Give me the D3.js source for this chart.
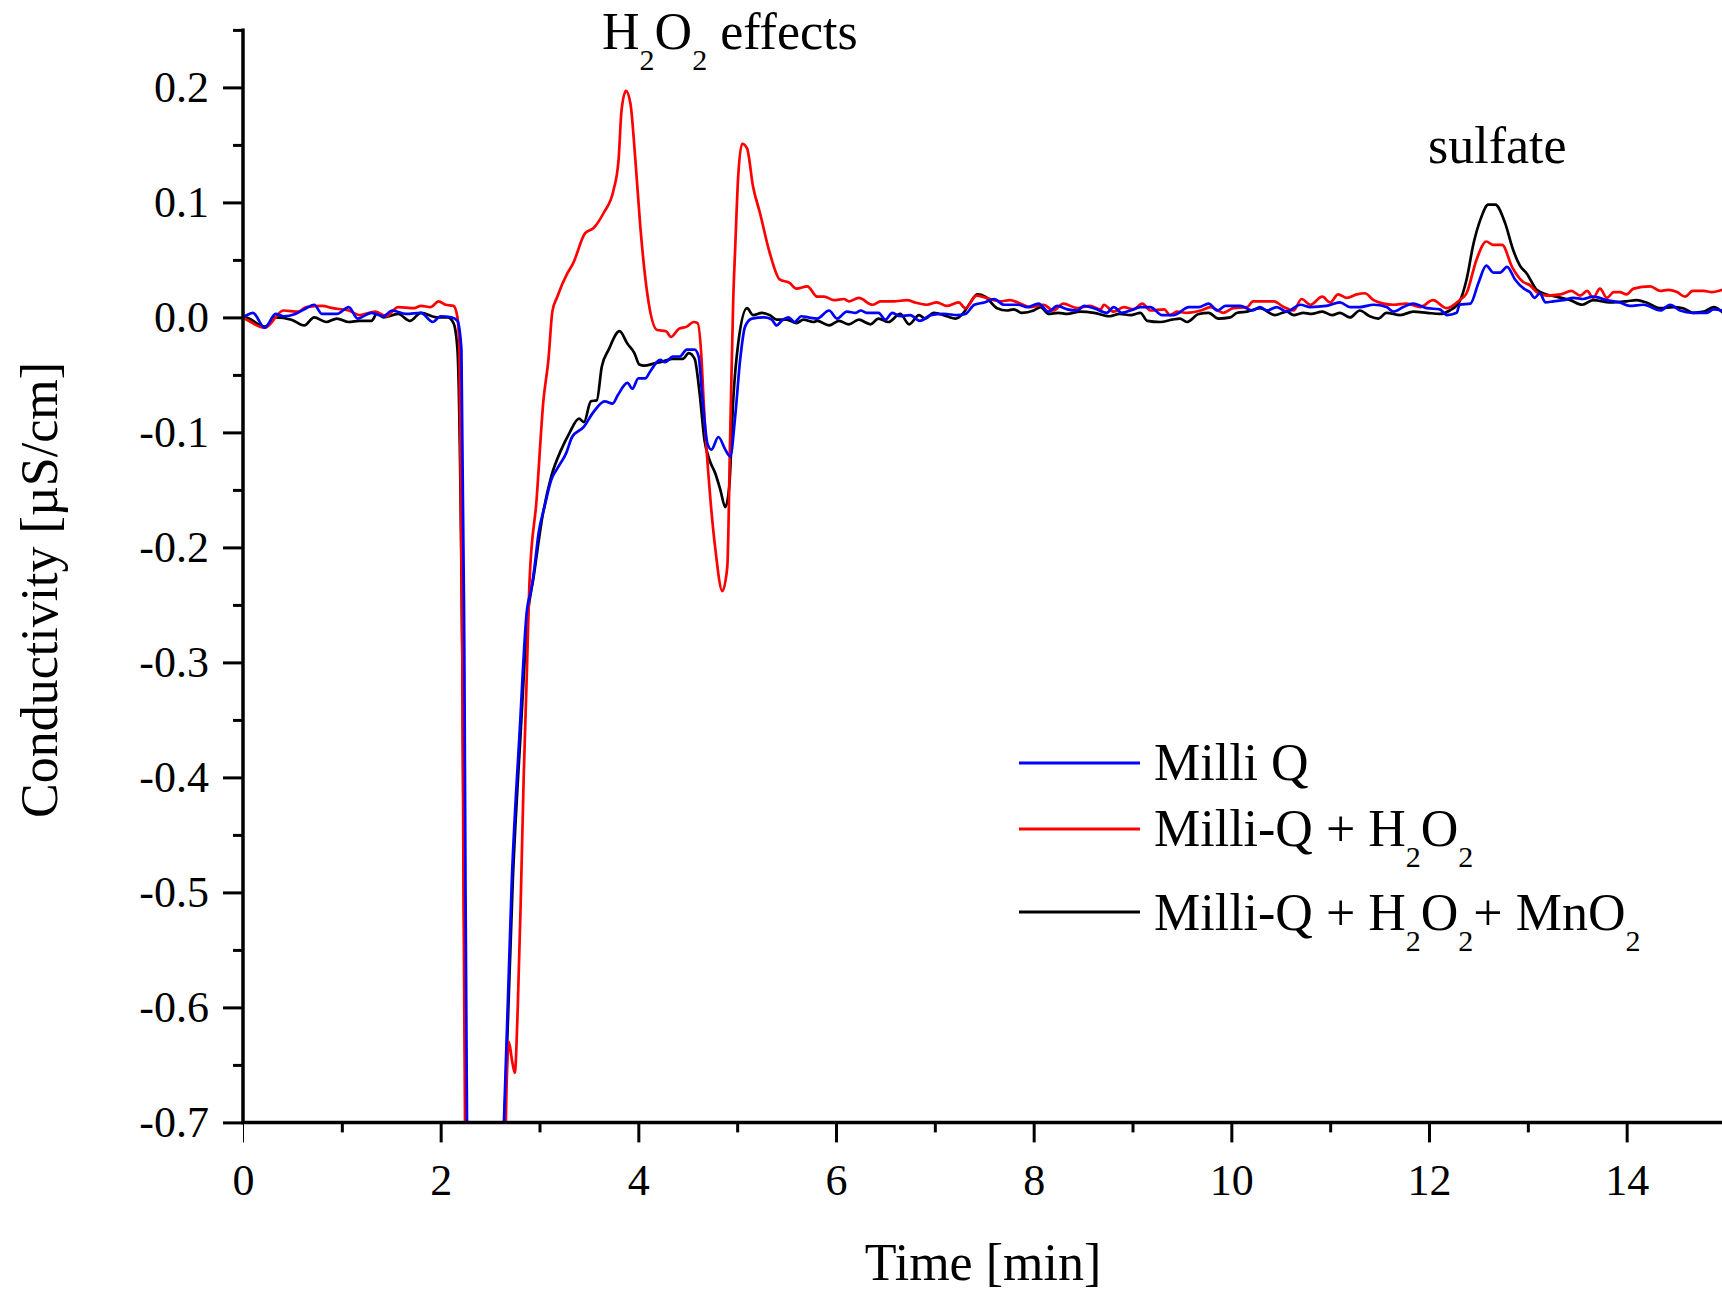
<!DOCTYPE html>
<html>
<head>
<meta charset="utf-8">
<script src="https://cdnjs.cloudflare.com/ajax/libs/d3/7.8.5/d3.min.js"></script>
<style>
  html, body { margin: 0; padding: 0; background: #fff; }
  svg { display: block; }
  text { font-family: "Liberation Serif", "Times New Roman", serif; fill: #000; }
</style>
</head>
<body>
<svg id="chart" width="1722" height="1292"></svg>
<script>
// ---------------- data (time [min], conductivity [µS/cm]) ----------------
const seriesNames = ["Milli Q", "Milli-Q + H2O2", "Milli-Q + H2O2+ MnO2"];
const seriesColors = ["#0000ff", "#ff0000", "#000000"];

const milliQ = [
  [0.00,0.000],[0.02,0.001],[0.10,0.004],[0.22,-0.009],[0.33,0.003],[0.41,0.001],[0.53,0.003],[0.64,0.008],
  [0.72,0.011],[0.80,0.003],[0.95,0.003],[1.07,0.009],[1.16,-0.001],[1.30,0.004],[1.42,0.001],[1.51,0.006],
  [1.65,0.003],[1.80,0.004],[1.92,-0.004],[2.00,0.001],[2.11,0.000],[2.17,-0.003],[2.21,-0.028],[2.24,-0.30],
  [2.27,-0.75],[2.45,-0.90],[2.63,-0.73],[2.64,-0.70],[2.72,-0.489],[2.80,-0.359],[2.87,-0.257],[2.92,-0.235],
  [2.95,-0.217],[2.99,-0.188],[3.05,-0.165],[3.12,-0.141],[3.19,-0.130],[3.27,-0.118],[3.33,-0.104],[3.45,-0.095],
  [3.54,-0.083],[3.66,-0.073],[3.74,-0.075],[3.79,-0.068],[3.89,-0.057],[3.94,-0.062],[4.00,-0.053],[4.07,-0.053],
  [4.12,-0.047],[4.22,-0.037],[4.27,-0.039],[4.35,-0.034],[4.42,-0.034],[4.49,-0.028],[4.57,-0.028],[4.61,-0.034],
  [4.65,-0.072],[4.70,-0.110],[4.74,-0.115],[4.81,-0.104],[4.88,-0.115],[4.93,-0.121],[4.98,-0.086],[5.03,-0.037],
  [5.08,-0.008],[5.15,-0.001],[5.28,0.000],[5.35,-0.002],[5.40,-0.007],[5.45,-0.003],[5.52,0.000],[5.58,-0.004],
  [5.65,0.001],[5.72,0.000],[5.81,-0.001],[5.93,0.006],[6.01,-0.001],[6.11,0.005],[6.20,0.004],[6.25,0.006],
  [6.31,0.004],[6.43,0.004],[6.50,-0.002],[6.57,0.004],[6.65,0.001],[6.75,0.002],[6.85,-0.003],[6.96,0.002],
  [7.09,0.003],[7.23,0.002],[7.31,0.003],[7.40,0.011],[7.50,0.013],[7.60,0.016],[7.70,0.011],[7.84,0.011],
  [7.94,0.009],[8.05,0.012],[8.15,0.005],[8.24,0.010],[8.34,0.007],[8.44,0.006],[8.51,0.010],[8.61,0.008],
  [8.74,0.004],[8.81,0.009],[8.89,0.004],[8.98,0.006],[9.08,0.009],[9.18,0.009],[9.30,0.002],[9.42,0.002],
  [9.57,0.009],[9.67,0.009],[9.77,0.012],[9.86,0.006],[9.94,0.010],[10.09,0.010],[10.21,0.006],[10.29,0.009],
  [10.36,0.006],[10.46,0.009],[10.56,0.005],[10.70,0.011],[10.80,0.009],[10.96,0.010],[11.10,0.013],[11.20,0.009],
  [11.30,0.009],[11.44,0.011],[11.57,0.009],[11.64,0.005],[11.74,0.009],[11.84,0.012],[11.98,0.008],[12.11,0.007],
  [12.18,0.002],[12.28,0.004],[12.31,0.011],[12.42,0.012],[12.50,0.030],[12.58,0.045],[12.65,0.039],[12.72,0.039],
  [12.79,0.044],[12.87,0.033],[12.96,0.025],[13.02,0.022],[13.07,0.017],[13.12,0.021],[13.18,0.013],[13.26,0.014],
  [13.36,0.015],[13.46,0.017],[13.56,0.016],[13.66,0.018],[13.80,0.015],[13.93,0.013],[14.03,0.010],[14.17,0.011],
  [14.34,0.006],[14.44,0.011],[14.54,0.006],[14.67,0.004],[14.81,0.004],[14.88,0.007],[15.00,0.005]
];

const milliQH2O2 = [
  [0.00,0.000],[0.02,-0.001],[0.22,-0.009],[0.41,0.006],[0.56,0.005],[0.64,0.009],[0.80,0.010],[0.91,0.008],
  [1.07,0.006],[1.18,0.002],[1.34,0.005],[1.45,0.001],[1.57,0.009],[1.73,0.008],[1.80,0.010],[1.90,0.009],
  [1.98,0.014],[2.05,0.011],[2.13,0.010],[2.17,0.000],[2.19,-0.030],[2.22,-0.30],[2.25,-0.75],[2.45,-0.90],
  [2.65,-0.73],[2.67,-0.66],[2.69,-0.63],[2.72,-0.645],[2.75,-0.657],[2.78,-0.60],[2.81,-0.508],[2.84,-0.40],
  [2.87,-0.315],[2.90,-0.228],[2.97,-0.159],[3.04,-0.072],[3.09,-0.037],[3.13,0.005],[3.18,0.018],[3.28,0.038],
  [3.34,0.047],[3.46,0.073],[3.55,0.078],[3.65,0.091],[3.75,0.111],[3.80,0.137],[3.83,0.180],[3.875,0.197],
  [3.92,0.186],[3.97,0.137],[4.02,0.079],[4.09,0.021],[4.19,-0.011],[4.28,-0.012],[4.33,-0.017],[4.41,-0.010],
  [4.49,-0.008],[4.56,-0.004],[4.60,-0.005],[4.64,-0.037],[4.66,-0.072],[4.73,-0.159],[4.78,-0.202],[4.85,-0.238],
  [4.90,-0.217],[4.93,-0.100],[4.96,0.015],[4.98,0.060],[5.01,0.122],[5.05,0.151],[5.10,0.147],[5.16,0.114],
  [5.23,0.091],[5.33,0.056],[5.43,0.033],[5.53,0.030],[5.60,0.025],[5.71,0.027],[5.81,0.018],[5.88,0.018],
  [5.98,0.015],[6.08,0.016],[6.13,0.014],[6.23,0.017],[6.37,0.011],[6.45,0.014],[6.58,0.014],[6.72,0.015],
  [6.80,0.013],[6.92,0.011],[7.02,0.013],[7.12,0.010],[7.24,0.013],[7.31,0.008],[7.42,0.019],[7.52,0.017],
  [7.66,0.014],[7.76,0.015],[7.84,0.013],[7.96,0.009],[8.10,0.011],[8.20,0.006],[8.30,0.012],[8.44,0.008],
  [8.57,0.010],[8.68,0.007],[8.71,0.011],[8.81,0.005],[8.91,0.009],[9.01,0.007],[9.10,0.012],[9.18,0.006],
  [9.32,0.007],[9.38,0.002],[9.45,0.005],[9.55,0.004],[9.69,0.006],[9.79,0.009],[9.92,0.004],[10.02,0.008],
  [10.16,0.009],[10.22,0.014],[10.29,0.014],[10.43,0.014],[10.53,0.009],[10.63,0.006],[10.71,0.016],[10.80,0.011],
  [10.92,0.018],[11.00,0.013],[11.08,0.020],[11.17,0.017],[11.27,0.020],[11.35,0.021],[11.44,0.015],[11.54,0.012],
  [11.64,0.011],[11.77,0.012],[11.91,0.009],[12.04,0.015],[12.18,0.008],[12.31,0.015],[12.38,0.021],[12.48,0.050],
  [12.58,0.066],[12.65,0.063],[12.74,0.063],[12.84,0.044],[12.95,0.031],[13.02,0.028],[13.09,0.022],[13.19,0.019],
  [13.33,0.020],[13.44,0.023],[13.53,0.019],[13.60,0.023],[13.66,0.017],[13.73,0.025],[13.80,0.017],[13.87,0.022],
  [13.93,0.022],[14.00,0.020],[14.07,0.025],[14.24,0.027],[14.34,0.023],[14.42,0.024],[14.51,0.022],[14.59,0.018],
  [14.67,0.023],[14.78,0.023],[14.86,0.022],[15.00,0.025]
];

const milliQH2O2MnO2 = [
  [0.00,0.000],[0.02,0.000],[0.22,-0.008],[0.33,0.000],[0.49,-0.002],[0.62,-0.007],[0.72,0.000],[0.84,-0.004],
  [0.95,-0.001],[1.07,-0.004],[1.18,-0.003],[1.30,-0.003],[1.36,0.004],[1.42,0.000],[1.57,0.003],[1.69,-0.003],
  [1.80,0.004],[1.96,0.000],[2.07,0.000],[2.13,-0.005],[2.17,-0.028],[2.22,-0.30],[2.26,-0.75],[2.45,-0.90],
  [2.63,-0.73],[2.645,-0.70],[2.73,-0.489],[2.81,-0.36],[2.88,-0.26],[2.94,-0.226],[3.03,-0.173],[3.12,-0.138],
  [3.22,-0.115],[3.30,-0.101],[3.40,-0.088],[3.45,-0.091],[3.52,-0.073],[3.58,-0.072],[3.63,-0.043],[3.70,-0.028],
  [3.81,-0.012],[3.89,-0.023],[3.96,-0.031],[4.01,-0.041],[4.06,-0.042],[4.16,-0.040],[4.26,-0.038],[4.35,-0.036],
  [4.45,-0.036],[4.51,-0.031],[4.57,-0.036],[4.62,-0.066],[4.67,-0.107],[4.72,-0.124],[4.78,-0.136],[4.83,-0.150],
  [4.88,-0.165],[4.92,-0.147],[4.96,-0.072],[5.01,-0.023],[5.10,0.008],[5.16,0.002],[5.25,0.004],[5.33,0.002],
  [5.40,-0.002],[5.50,-0.002],[5.60,-0.005],[5.67,-0.002],[5.77,-0.004],[5.81,-0.003],[5.93,-0.007],[6.03,-0.003],
  [6.13,-0.006],[6.23,-0.002],[6.35,-0.006],[6.43,-0.001],[6.53,-0.004],[6.65,0.003],[6.74,-0.006],[6.84,0.002],
  [6.90,-0.001],[6.99,0.004],[7.12,0.001],[7.21,-0.001],[7.29,0.004],[7.36,0.013],[7.43,0.020],[7.51,0.018],
  [7.63,0.008],[7.73,0.006],[7.80,0.007],[7.88,0.004],[8.00,0.006],[8.07,0.009],[8.15,0.003],[8.25,0.004],
  [8.34,0.003],[8.47,0.005],[8.61,0.004],[8.77,0.001],[8.87,0.003],[8.98,0.002],[9.08,0.004],[9.15,-0.003],
  [9.28,-0.004],[9.40,-0.002],[9.48,-0.001],[9.55,-0.004],[9.67,0.003],[9.77,0.004],[9.87,-0.001],[9.99,0.000],
  [10.06,0.004],[10.16,0.005],[10.29,0.008],[10.44,0.002],[10.56,0.005],[10.63,0.002],[10.73,0.004],[10.81,0.003],
  [10.92,0.005],[11.02,0.002],[11.10,0.004],[11.20,0.000],[11.30,0.006],[11.40,0.001],[11.49,-0.001],[11.57,0.004],
  [11.71,0.002],[11.84,0.005],[11.98,0.004],[12.11,0.003],[12.21,0.006],[12.31,0.014],[12.38,0.033],[12.45,0.064],
  [12.52,0.085],[12.60,0.098],[12.67,0.098],[12.77,0.082],[12.85,0.059],[12.92,0.045],[12.99,0.038],[13.09,0.024],
  [13.19,0.020],[13.29,0.018],[13.43,0.015],[13.55,0.011],[13.66,0.015],[13.83,0.013],[14.00,0.014],[14.10,0.015],
  [14.20,0.013],[14.34,0.008],[14.47,0.009],[14.57,0.008],[14.67,0.004],[14.78,0.005],[14.88,0.009],[15.00,0.002]
];

// axes ticks
const xMajorTicks = [0, 2, 4, 6, 8, 10, 12, 14];
const xTickLabels = ["0", "2", "4", "6", "8", "10", "12", "14"];
const xMinorTicks = [1, 3, 5, 7, 9, 11, 13, 15];
const yMajorTicks = [-0.7, -0.6, -0.5, -0.4, -0.3, -0.2, -0.1, 0.0, 0.1, 0.2];
const yTickLabels = ["-0.7", "-0.6", "-0.5", "-0.4", "-0.3", "-0.2", "-0.1", "0.0", "0.1", "0.2"];
const yMinorTicks = [-0.65, -0.55, -0.45, -0.35, -0.25, -0.15, -0.05, 0.05, 0.15, 0.25];

// ---------------- layout ----------------
const svg = d3.select("#chart");
const plotLeft = 243, plotRight = 1725.5, plotTop = 29.9, plotBottom = 1122.4;

const x = d3.scaleLinear().domain([0, 15]).range([plotLeft, plotRight]);
const y = d3.scaleLinear().domain([-0.7, 0.25]).range([plotBottom, plotTop]);

svg.append("defs").append("clipPath").attr("id", "plotClip")
  .append("rect").attr("x", plotLeft).attr("y", plotTop)
  .attr("width", plotRight - plotLeft).attr("height", plotBottom - plotTop);

// ---------------- lines ----------------
const line = d3.line().x(d => x(d[0])).y(d => y(d[1])).curve(d3.curveMonotoneX);
const drawOrder = [
  { data: milliQH2O2MnO2, color: seriesColors[2] },
  { data: milliQH2O2, color: seriesColors[1] },
  { data: milliQ, color: seriesColors[0] }
];
const gLines = svg.append("g").attr("clip-path", "url(#plotClip)");
drawOrder.forEach(s => {
  gLines.append("path").datum(s.data)
    .attr("d", line)
    .attr("fill", "none")
    .attr("stroke", s.color)
    .attr("stroke-width", 2.7)
    .attr("stroke-linejoin", "round");
});

// ---------------- axes ----------------
const tickFont = 44;
const serif = "Liberation Serif, Times New Roman, serif";
const gx = svg.append("g").attr("transform", `translate(0,${plotBottom})`);
gx.call(d3.axisBottom(x).tickValues(xMajorTicks).tickSize(20).tickSizeOuter(0).tickPadding(21)
  .tickFormat((d, i) => xTickLabels[i]));
gx.select(".domain").remove();
gx.selectAll(".tick line").attr("stroke", "#000").attr("stroke-width", d => d === 0 ? 1 : 3);
gx.selectAll(".tick text").attr("font-size", tickFont).attr("font-family", serif).attr("fill", "#000");

const gxm = svg.append("g").attr("transform", `translate(0,${plotBottom})`);
gxm.call(d3.axisBottom(x).tickValues(xMinorTicks).tickSize(10).tickSizeOuter(0).tickFormat(""));
gxm.select(".domain").remove();
gxm.selectAll(".tick line").attr("stroke", "#000").attr("stroke-width", 3);

const gy = svg.append("g").attr("transform", `translate(${plotLeft},0)`);
gy.call(d3.axisLeft(y).tickValues(yMajorTicks).tickSize(20).tickSizeOuter(0).tickPadding(14)
  .tickFormat((d, i) => yTickLabels[i]));
gy.select(".domain").remove();
gy.selectAll(".tick line").attr("stroke", "#000").attr("stroke-width", 3);
gy.selectAll(".tick text").attr("font-size", tickFont).attr("font-family", serif).attr("fill", "#000");

const gym = svg.append("g").attr("transform", `translate(${plotLeft},0)`);
gym.call(d3.axisLeft(y).tickValues(yMinorTicks).tickSize(10).tickSizeOuter(0).tickFormat(""));
gym.select(".domain").remove();
gym.selectAll(".tick line").attr("stroke", "#000").attr("stroke-width", 3);

// axis lines
svg.append("line").attr("x1", plotLeft).attr("x2", plotLeft).attr("y1", plotTop - 1.5).attr("y2", plotBottom + 1.5)
  .attr("stroke", "#000").attr("stroke-width", 3.5);
svg.append("line").attr("x1", plotLeft - 1.5).attr("x2", 1722).attr("y1", plotBottom).attr("y2", plotBottom)
  .attr("stroke", "#000").attr("stroke-width", 3.5);

// axis titles
svg.append("text").attr("x", 983).attr("y", 1280).attr("text-anchor", "middle")
  .attr("font-size", 52).text("Time [min]");
svg.append("text").attr("transform", "translate(57,590) rotate(-90)").attr("text-anchor", "middle")
  .attr("font-size", 52).text("Conductivity [µS/cm]");

// ---------------- chemical text helper ----------------
function chemText(parent, xPos, yPos, parts) {
  const t = parent.append("text").attr("x", xPos).attr("y", yPos).attr("font-size", 52);
  let shifted = false;
  parts.forEach(p => {
    const sp = t.append("tspan").text(p.t);
    if (p.sub) {
      sp.attr("font-size", 30).attr("dy", shifted ? 0 : 21);
      shifted = true;
    } else {
      if (shifted) sp.attr("dy", -21);
      shifted = false;
    }
  });
  return t;
}

// annotations
chemText(svg, 602, 49, [{t:"H"},{t:"2",sub:true},{t:"O"},{t:"2",sub:true},{t:" effects"}]);
svg.append("text").attr("x", 1428).attr("y", 163).attr("font-size", 52).text("sulfate");

// ---------------- legend ----------------
const legend = svg.append("g");
const legendRows = [
  { y: 763, base: 780, color: seriesColors[0], parts: [{t:"Milli Q"}] },
  { y: 829, base: 846, color: seriesColors[1], parts: [{t:"Milli-Q + H"},{t:"2",sub:true},{t:"O"},{t:"2",sub:true}] },
  { y: 912, base: 930, color: seriesColors[2], parts: [{t:"Milli-Q + H"},{t:"2",sub:true},{t:"O"},{t:"2",sub:true},{t:"+ MnO"},{t:"2",sub:true}] }
];
legendRows.forEach(r => {
  legend.append("line").attr("x1", 1019).attr("x2", 1140).attr("y1", r.y).attr("y2", r.y)
    .attr("stroke", r.color).attr("stroke-width", 3);
  chemText(legend, 1154, r.base, r.parts);
});
</script>
</body>
</html>
